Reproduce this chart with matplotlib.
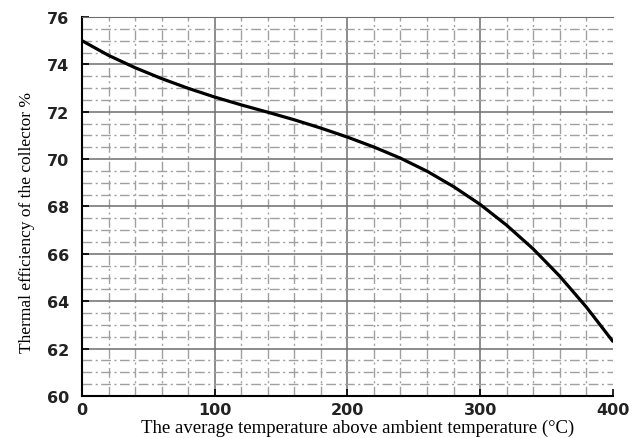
import numpy as np
import matplotlib.pyplot as plt
from matplotlib.ticker import MultipleLocator

# values
temp = [0, 20, 40, 60, 80, 100, 120, 140, 160, 180, 200,
        220, 240, 260, 280, 300, 320, 340, 360, 380, 400]
efficiency = [75.0, 74.38, 73.86, 73.40, 72.99, 72.62, 72.29, 71.98, 71.66, 71.31, 70.93,
              70.51, 70.04, 69.49, 68.84, 68.09, 67.21, 66.21, 65.06, 63.76, 62.31]

x_ticks = [0, 100, 200, 300, 400]
y_ticks = [60, 62, 64, 66, 68, 70, 72, 74, 76]

fig = plt.figure(figsize=(6.43, 4.39), dpi=100)
ax = fig.add_axes([0.1275, 0.0957, 0.8255, 0.8633])

ax.plot(temp, efficiency, color='black', lw=2.3, zorder=5,
        solid_joinstyle='round', solid_capstyle='round')

ax.set_xlim(0, 400)
ax.set_ylim(60, 76)
ax.set_xticks(x_ticks)
ax.set_yticks(y_ticks)
ax.xaxis.set_minor_locator(MultipleLocator(20))
ax.yaxis.set_minor_locator(MultipleLocator(0.5))

# grid: solid majors, dash-dot minors
ax.grid(which='major', color='#6e6e6e', lw=1.1, ls='-')
ax.grid(which='minor', color='#a0a0a0', lw=1.0, ls=(0, (7, 2.5, 1.5, 2.5)))
ax.set_axisbelow(True)
ax.xaxis.get_gridlines()[-1].set_visible(False)

ax.tick_params(which='major', direction='in', length=5, width=1.2,
               labelsize=11.5, pad=4)
ax.tick_params(axis='y', which='major', pad=9)
ax.tick_params(which='minor', length=0)
for lab in ax.get_xticklabels() + ax.get_yticklabels():
    lab.set_fontweight('bold')
    lab.set_color('#222222')

ax.spines['left'].set_linewidth(1.5)
ax.spines['bottom'].set_linewidth(1.5)
ax.spines['top'].set_color('#6e6e6e')
ax.spines['right'].set_visible(False)

ax.set_xlabel('The average temperature above ambient temperature (°C)',
              family='Liberation Serif', fontsize=13.5)
ax.xaxis.set_label_coords(0.52, -0.06)
ax.set_ylabel('Thermal efficiency of the collector %',
              family='Liberation Serif', fontsize=12.5)
ax.yaxis.set_label_coords(-0.088, 0.46)

fig.savefig('out.png', dpi=100)
